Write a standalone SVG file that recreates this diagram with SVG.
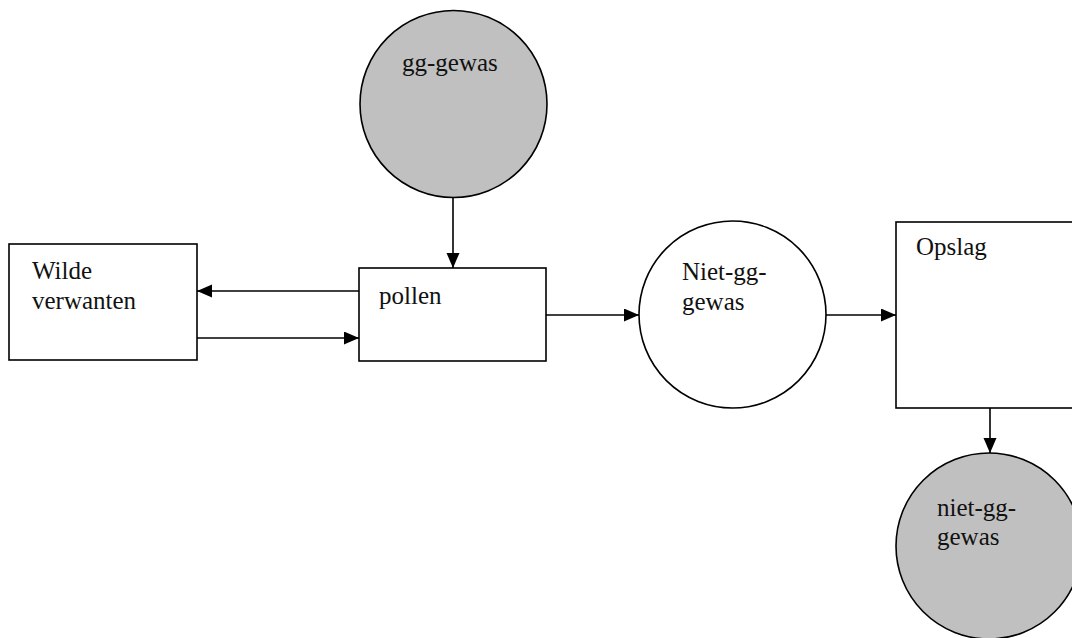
<svg xmlns="http://www.w3.org/2000/svg" width="1072" height="638" viewBox="0 0 1072 638">
<defs>
<style>
.box{fill:#fff;stroke:#000;stroke-width:1.6}
.gray{fill:#c0c0c0;stroke:#000;stroke-width:1.6}
.white{fill:#fff;stroke:#000;stroke-width:1.6}
.lbl{font-family:"Liberation Serif","Times New Roman",serif;font-size:25px;fill:#111}
.con{stroke:#000;stroke-width:1.6;fill:none;marker-end:url(#ah)}
</style>
<marker id="ah" markerUnits="userSpaceOnUse" markerWidth="16" markerHeight="14" refX="15" refY="6.5" orient="auto">
<path d="M0,0 L15,6.5 L0,13 Z" fill="#000"/>
</marker>
</defs>
<rect width="1072" height="638" fill="#fff"/>
<g id="gg-gewas">
<circle class="gray" cx="453.5" cy="104" r="93.5"/>
<text class="lbl" x="402" y="71">gg-gewas</text>
</g>
<g id="wilde-verwanten">
<rect class="box" x="9" y="244" width="188" height="116"/>
<text class="lbl" x="32" y="279">Wilde</text>
<text class="lbl" x="32" y="309">verwanten</text>
</g>
<g id="pollen">
<rect class="box" x="359" y="268" width="187" height="93"/>
<text class="lbl" x="379" y="304">pollen</text>
</g>
<g id="niet-gg-gewas-1">
<circle class="white" cx="732.5" cy="314.5" r="93.5"/>
<text class="lbl" x="682" y="280">Niet-gg-</text>
<text class="lbl" x="682" y="310">gewas</text>
</g>
<g id="opslag">
<rect class="box" x="896" y="222" width="200" height="186"/>
<text class="lbl" x="916" y="255">Opslag</text>
</g>
<g id="niet-gg-gewas-2">
<circle class="gray" cx="989" cy="546" r="93"/>
<text class="lbl" x="937" y="516">niet-gg-</text>
<text class="lbl" x="937" y="545">gewas</text>
</g>
<g id="connectors">
<line class="con" x1="453" y1="197.5" x2="453" y2="268"/>
<line class="con" x1="359" y1="291" x2="197" y2="291"/>
<line class="con" x1="197" y1="338" x2="359" y2="338"/>
<line class="con" x1="546" y1="315" x2="639" y2="315"/>
<line class="con" x1="826" y1="315" x2="896" y2="315"/>
<line class="con" x1="990" y1="408" x2="990" y2="453"/>
</g>
</svg>
